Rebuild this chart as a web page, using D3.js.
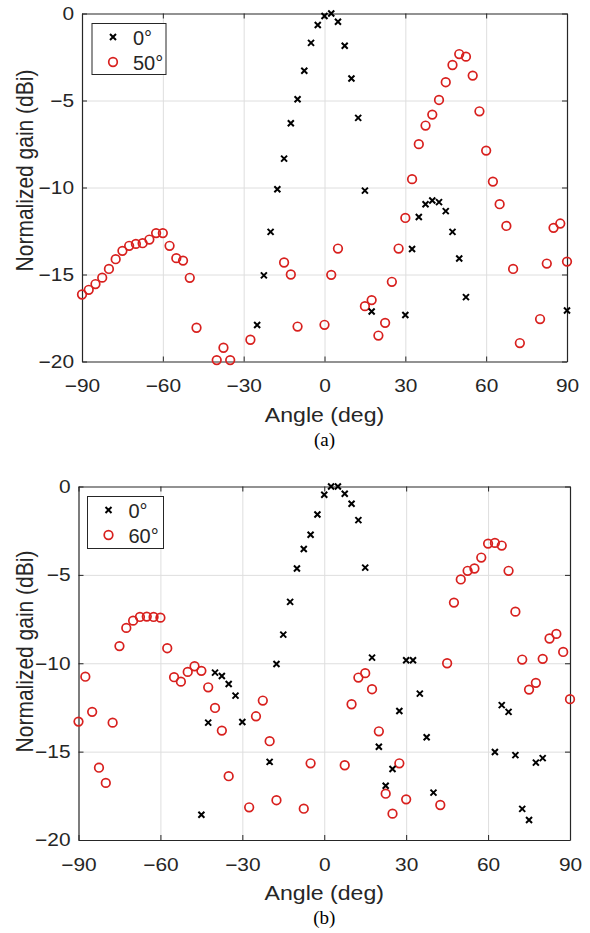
<!DOCTYPE html>
<html>
<head>
<meta charset="utf-8">
<script src="https://cdn.jsdelivr.net/npm/d3@7"></script>
<style>
  body { margin: 0; background: #fff; }
  .chart text { font-family: Arial, "Liberation Sans", sans-serif; fill: #262626; }
  .grid line { stroke: #dedede; stroke-width: 1; }
  .grid path { display: none; }
  .axis path { stroke: #262626; stroke-width: 1.2; }
  .axis line { stroke: #262626; }
</style>
</head>
<body>
<div id="chart"></div>
<script>
// Panel (a): 0° and 50° beams
const topAng0 = [-25,-22.5,-20,-17.5,-15,-12.5,-10,-7.5,-5,-2.5,0,2.5,5,7.5,10,12.5,15,17.5,30,32.5,35,37.5,40,42.5,45,47.5,50,52.5,90];
const topGain0 = [-17.9,-15.05,-12.55,-10.1,-8.34,-6.31,-4.93,-3.29,-1.69,-0.66,-0.14,0,-0.47,-1.85,-3.74,-6.0,-10.18,-17.13,-17.33,-13.53,-11.7,-10.96,-10.75,-10.84,-11.36,-12.55,-14.08,-16.3,-17.07];
const topAng50 = [-90,-87.5,-85,-82.5,-80,-77.5,-75,-72.5,-70,-67.5,-65,-62.5,-60,-57.5,-55,-52.5,-50,-47.5,-40,-37.5,-35,-27.5,-15,-12.5,-10,0,2.5,5,15,17.5,20,22.5,25,27.5,30,32.5,35,37.5,40,42.5,45,47.5,50,52.5,55,57.5,60,62.5,65,67.5,70,72.5,80,82.5,85,87.5,90];
const topGain50 = [-16.15,-15.88,-15.55,-15.18,-14.68,-14.12,-13.64,-13.35,-13.24,-13.2,-12.99,-12.62,-12.62,-13.35,-14.06,-14.2,-15.19,-18.06,-19.92,-19.21,-19.92,-18.75,-14.31,-15.0,-17.99,-17.89,-15.02,-13.51,-16.82,-16.47,-18.51,-17.78,-15.42,-13.51,-11.75,-9.52,-7.51,-6.44,-5.81,-4.97,-3.95,-2.96,-2.33,-2.48,-3.57,-5.62,-7.88,-9.66,-10.96,-12.21,-14.68,-18.94,-17.56,-14.37,-12.32,-12.07,-14.26];

// Panel (b): 0° and 60° beams
const botAng0 = [-45,-42.5,-40,-37.5,-35,-32.5,-30,-20,-17.5,-15,-12.5,-10,-7.5,-5,-2.5,0,2.5,5,7.5,10,12.5,15,17.5,20,22.5,25,27.5,30,32.5,35,37.5,40,62.5,65,67.5,70,72.5,75,77.5,80];
const botGain0 = [-18.57,-13.36,-10.53,-10.72,-11.17,-11.83,-13.32,-15.58,-10.04,-8.38,-6.53,-4.64,-3.54,-2.73,-1.58,-0.47,0,0,-0.41,-0.98,-1.9,-4.59,-9.68,-14.72,-16.93,-15.98,-12.7,-9.83,-9.83,-11.72,-14.19,-17.32,-15.02,-12.37,-12.75,-15.2,-18.24,-18.87,-15.62,-15.37];
const botAng60 = [-90,-87.5,-85,-82.5,-80,-77.5,-75,-72.5,-70,-67.5,-65,-62.5,-60,-57.5,-55,-52.5,-50,-47.5,-45,-42.5,-40,-37.5,-35,-27.5,-25,-22.5,-20,-17.5,-7.5,-5,7.5,10,12.5,15,17.5,20,22.5,25,27.5,30,42.5,45,47.5,50,52.5,55,57.5,60,62.5,65,67.5,70,72.5,75,77.5,80,82.5,85,87.5,90];
const botGain60 = [-13.3,-10.76,-12.75,-15.91,-16.77,-13.36,-9.03,-8.0,-7.59,-7.38,-7.36,-7.38,-7.42,-9.15,-10.79,-11.04,-10.49,-10.17,-10.43,-11.36,-12.53,-13.81,-16.39,-18.15,-13.0,-12.11,-14.41,-17.75,-18.23,-15.66,-15.77,-12.32,-10.81,-10.56,-11.47,-13.85,-17.38,-18.51,-15.66,-17.7,-18.02,-10.0,-6.57,-5.26,-4.77,-4.64,-4.02,-3.23,-3.19,-3.34,-4.77,-7.08,-9.79,-11.49,-11.11,-9.75,-8.6,-8.34,-9.36,-12.03];

const xTicks = [-90,-60,-30,0,30,60,90];
const yTicks = [0,-5,-10,-15,-20];

const red = '#d8201e';
const stretch = 1.16; // the source figure is a bit wider than tall

const svg = d3.select('#chart').append('svg')
    .attr('class', 'chart')
    .attr('width', 590)
    .attr('height', 933);

function drawPanel(cfg) {
    const w = cfg.right - cfg.left;
    const h = cfg.bottom - cfg.top;

    const x = d3.scaleLinear().domain([-90, 90]).range([0, w]);
    const y = d3.scaleLinear().domain([-20, 0]).range([h, 0]);

    const g = svg.append('g')
        .attr('transform', `translate(${cfg.left},${cfg.top})`);

    // grid
    g.append('g').attr('class', 'grid')
        .call(d3.axisBottom(x).tickValues(xTicks.slice(1, -1)).tickSize(h).tickFormat(''));
    g.append('g').attr('class', 'grid')
        .call(d3.axisLeft(y).tickValues(yTicks.slice(1, -1)).tickSize(-w).tickFormat(''));

    // box axes with inward ticks
    const xb = g.append('g').attr('class', 'axis')
        .attr('transform', `translate(0,${h})`)
        .call(d3.axisBottom(x).tickValues(xTicks).tickSizeInner(-5).tickSizeOuter(0));
    const yl = g.append('g').attr('class', 'axis')
        .call(d3.axisLeft(y).tickValues(yTicks).tickSizeInner(-5).tickSizeOuter(0));
    g.append('g').attr('class', 'axis')
        .call(d3.axisTop(x).tickValues(xTicks).tickSizeInner(-5).tickSizeOuter(0).tickFormat(''));
    g.append('g').attr('class', 'axis')
        .attr('transform', `translate(${w},0)`)
        .call(d3.axisRight(y).tickValues(yTicks).tickSizeInner(-5).tickSizeOuter(0).tickFormat(''));

    xb.selectAll('text')
        .attr('y', 0).attr('dy', 0)
        .attr('transform', `translate(0,${cfg.xTickY}) scale(${stretch},1)`)
        .style('font-size', '18px');
    yl.selectAll('text')
        .attr('x', 0)
        .attr('transform', `translate(-8,0) scale(${stretch},1)`)
        .style('font-size', '18px');

    // axis titles
    g.append('text')
        .attr('transform', `translate(${w / 2},${h + 60}) scale(1.1,1)`)
        .attr('text-anchor', 'middle')
        .style('font-size', '21px')
        .text('Angle (deg)');
    g.append('text')
        .attr('transform', `translate(${32.5 - cfg.left},${cfg.yLabelMid}) scale(${stretch},1) rotate(-90)`)
        .attr('text-anchor', 'middle')
        .style('font-size', '21px')
        .text('Normalized gain (dBi)');

    // caption
    svg.append('text')
        .attr('x', cfg.left + w / 2).attr('y', cfg.bottom + 84)
        .attr('text-anchor', 'middle')
        .style('font-family', '"Liberation Serif", "Times New Roman", serif')
        .style('font-size', '19px')
        .style('fill', '#000')
        .text(cfg.caption);

    // series: circles (steered beam)
    const cData = cfg.angB.map((a, i) => ({a, v: cfg.gainB[i]}));
    g.append('g').selectAll('circle')
        .data(cData).enter().append('circle')
        .attr('cx', d => x(d.a))
        .attr('cy', d => y(d.v))
        .attr('r', 4.3)
        .attr('fill', 'none')
        .attr('stroke', red)
        .attr('stroke-width', 1.7);

    // series: crosses (broadside)
    const xData = cfg.angA.map((a, i) => ({a, v: cfg.gainA[i]}));
    const s = 3;
    g.append('g').selectAll('path')
        .data(xData).enter().append('path')
        .attr('d', d => {
            const cx = x(d.a), cy = y(d.v);
            return `M${cx - s},${cy - s}L${cx + s},${cy + s}M${cx - s},${cy + s}L${cx + s},${cy - s}`;
        })
        .attr('stroke', '#000')
        .attr('stroke-width', 2);

    // legend
    const lg = g.append('g').attr('transform', `translate(${cfg.legend.x},${cfg.legend.y})`);
    lg.append('rect')
        .attr('width', cfg.legend.w).attr('height', cfg.legend.h)
        .attr('fill', '#fff').attr('stroke', '#262626').attr('stroke-width', 1);
    lg.append('path')
        .attr('d', `M${21 - s},${13.5 - s}L${21 + s},${13.5 + s}M${21 - s},${13.5 + s}L${21 + s},${13.5 - s}`)
        .attr('stroke', '#000').attr('stroke-width', 2);
    lg.append('circle')
        .attr('cx', 21).attr('cy', 38.5).attr('r', 4.3)
        .attr('fill', 'none').attr('stroke', red).attr('stroke-width', 1.7);
    lg.append('text').attr('x', 41).attr('y', 21.5).style('font-size', '20px').text(cfg.labelA);
    lg.append('text').attr('x', 41).attr('y', 46.5).style('font-size', '20px').text(cfg.labelB);
}

drawPanel({
    left: 82, right: 567, top: 13.5, bottom: 361.5,
    angA: topAng0, gainA: topGain0, angB: topAng50, gainB: topGain50,
    labelA: '0°', labelB: '50°', caption: '(a)',
    xTickY: 30, yLabelMid: 157,
    legend: {x: 10, y: 10, w: 74, h: 51}
});

drawPanel({
    left: 78.5, right: 570, top: 486.5, bottom: 840,
    angA: botAng0, gainA: botGain0, angB: botAng60, gainB: botGain60,
    labelA: '0°', labelB: '60°', caption: '(b)',
    xTickY: 31, yLabelMid: 165,
    legend: {x: 9, y: 10, w: 76, h: 52}
});
</script>
</body>
</html>
